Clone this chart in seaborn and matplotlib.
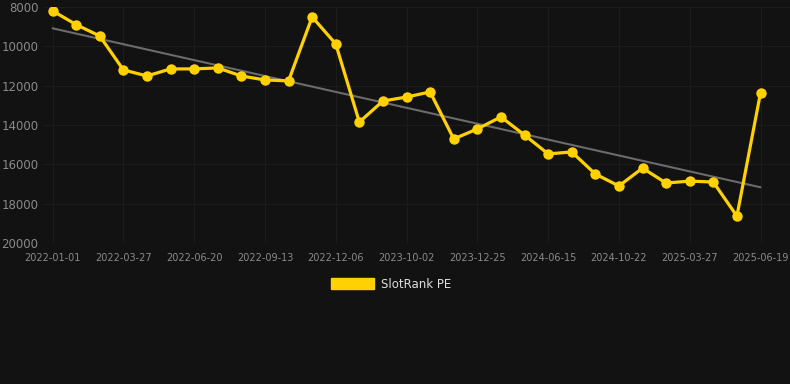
import numpy as np
import pandas as pd
import matplotlib.pyplot as plt
import seaborn as sns
from matplotlib.patches import Patch

# datos (rango, eje invertido)
rank = [8200, 8900, 9480, 11200, 11510, 11150, 11150, 11100, 11510, 11710,
        11760, 8510, 9880, 13850, 12780, 12580, 12320, 14710, 14200, 13590,
        14510, 15470, 15370, 16490, 17100, 16190, 16950, 16850, 16900, 18630,
        12370]
tick_labels = ["2022-01-01", "2022-03-27", "2022-06-20", "2022-09-13",
               "2022-12-06", "2023-10-02", "2023-12-25", "2024-06-15",
               "2024-10-22", "2025-03-27", "2025-06-19"]
y_ticks = [8000, 10000, 12000, 14000, 16000, 18000, 20000]

df = pd.DataFrame({"idx": np.arange(len(rank)), "rank": rank})

BG = "#121212"
GOLD = "#FFD100"

sns.set_theme(style="dark")
fig = plt.figure(figsize=(7.9, 3.84), dpi=100, facecolor=BG)
ax = fig.add_axes([0.054, 0.367, 0.946, 0.615], facecolor=BG)

# linea de tendencia (regresion lineal)
coef = np.polyfit(df["idx"], df["rank"], 1)
ax.plot(df["idx"], np.polyval(coef, df["idx"]), color="#6b6b6b", lw=1.5, zorder=2)

sns.lineplot(data=df, x="idx", y="rank", color=GOLD, lw=2.3, marker="o",
             markersize=7.5, markeredgewidth=0, ax=ax, zorder=3)

ax.set_ylim(20000, 8000)
ax.set_xlim(-0.42, 31.25)
ax.set_yticks(y_ticks)
ax.set_yticklabels([str(v) for v in y_ticks], color="#8a8a8a", fontsize=8.5)
ax.set_xticks(df["idx"][::3])
ax.set_xticklabels(tick_labels, color="#8a8a8a", fontsize=7)
ax.tick_params(axis="y", length=0, pad=3)
ax.tick_params(axis="x", length=0, pad=7)
ax.grid(True, color="#1c1c1c", lw=0.8)
ax.set_xlabel("")
ax.set_ylabel("")
for s in ax.spines.values():
    s.set_visible(False)

fig.legend(handles=[Patch(color=GOLD, label="SlotRank PE")], loc="center",
           bbox_to_anchor=(0.495, 0.26), frameon=False, fontsize=8.5,
           labelcolor="#dddddd", handlelength=3.6, handleheight=1.0,
           handletextpad=0.6)

plt.savefig("out.png", dpi=100, facecolor=BG)
plt.close()
